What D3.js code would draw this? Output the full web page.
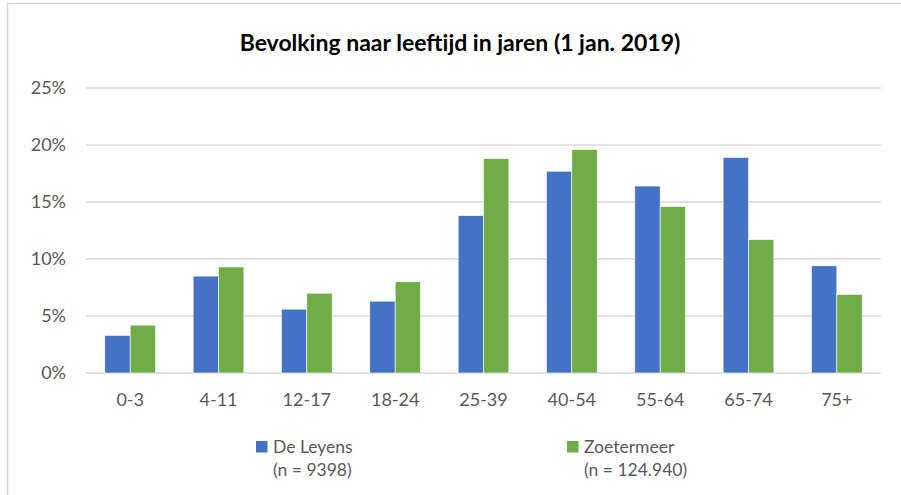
<!DOCTYPE html>
<html>
<head>
<meta charset="utf-8">
<script src="https://cdn.jsdelivr.net/npm/d3@7"></script>
<style>
  body { margin: 0; background: #fff; }
  svg { font-family: Lato, "Open Sans", sans-serif; }
</style>
</head>
<body>
<svg id="chart"></svg>
<script>
const categories = ['0-3', '4-11', '12-17', '18-24', '25-39', '40-54', '55-64', '65-74', '75+'];
const deLeyens = [3.3, 8.5, 5.6, 6.3, 13.8, 17.7, 16.4, 18.9, 9.4];
const zoetermeer = [4.2, 9.3, 7.0, 8.0, 18.8, 19.6, 14.6, 11.7, 6.9];
const yTicks = [0, 5, 10, 15, 20, 25];
const seriesNames = ['De Leyens', 'Zoetermeer'];
const seriesNotes = ['(n = 9398)', '(n = 124.940)'];
const colors = ['#4472c4', '#70ad47'];

const width = 901, height = 495;
const margin = { top: 88, right: 20, bottom: 122, left: 86 };

const svg = d3.select('#chart')
  .attr('width', width)
  .attr('height', height);

// chart frame
svg.append('rect')
  .attr('x', 7.5).attr('y', 3.5)
  .attr('width', width + 10).attr('height', height + 10)
  .attr('fill', 'none')
  .attr('stroke', '#d9d9d9')
  .attr('stroke-width', 1.5);

svg.append('text')
  .attr('x', 460)
  .attr('y', 51)
  .attr('text-anchor', 'middle')
  .attr('font-weight', 'bold')
  .attr('font-size', 23)
  .attr('fill', '#000')
  .text('Bevolking naar leeftijd in jaren (1 jan. 2019)');

const x0 = d3.scaleBand()
  .domain(categories)
  .range([margin.left, width - margin.right])
  .paddingInner(0.426)
  .paddingOuter(0.213);

const x1 = d3.scaleBand()
  .domain([0, 1])
  .range([0, x0.bandwidth()]);

const y = d3.scaleLinear()
  .domain([0, 25])
  .range([height - margin.bottom, margin.top]);

// gridlines
svg.append('g')
  .selectAll('line')
  .data(yTicks)
  .enter()
  .append('line')
  .attr('x1', margin.left)
  .attr('x2', width - margin.right)
  .attr('y1', d => y(d))
  .attr('y2', d => y(d))
  .attr('stroke', '#d9d9d9')
  .attr('stroke-width', 1.5);

const yAxis = svg.append('g')
  .attr('transform', `translate(${margin.left - 20},0)`)
  .call(d3.axisLeft(y).tickValues(yTicks).tickFormat(d => d + '%').tickSize(0).tickPadding(0));
yAxis.select('.domain').remove();
yAxis.selectAll('text')
  .attr('font-family', 'Lato, sans-serif')
  .attr('font-size', 18)
  .attr('fill', '#595959');

const series = [deLeyens, zoetermeer];
const groups = svg.append('g')
  .selectAll('g')
  .data(categories)
  .enter()
  .append('g')
  .attr('transform', d => `translate(${x0(d)},0)`);

groups.selectAll('rect')
  .data((d, i) => series.map((s, k) => ({ k, v: s[i] })))
  .enter()
  .append('rect')
  .attr('x', d => x1(d.k))
  .attr('y', d => y(d.v))
  .attr('width', x1.bandwidth())
  .attr('height', d => y(0) - y(d.v))
  .attr('fill', d => colors[d.k])
  .attr('stroke', '#fff')
  .attr('stroke-width', 0.6);

const xAxis = svg.append('g')
  .attr('transform', `translate(0,${y(0)})`)
  .call(d3.axisBottom(x0).tickSize(0).tickPadding(20));
xAxis.select('.domain').remove();
xAxis.selectAll('text')
  .attr('font-family', 'Lato, sans-serif')
  .attr('font-size', 18)
  .attr('fill', '#595959');

// legend
const legendX = [256, 567];
const legend = svg.append('g')
  .selectAll('g')
  .data(seriesNames)
  .enter()
  .append('g')
  .attr('transform', (d, i) => `translate(${legendX[i]},441)`);

legend.append('rect')
  .attr('width', 11.5)
  .attr('height', 11.5)
  .attr('fill', (d, i) => colors[i]);

legend.append('text')
  .attr('x', 17)
  .attr('y', 11.5)
  .attr('font-size', 17.5)
  .attr('fill', '#595959')
  .text(d => d);

legend.append('text')
  .attr('x', 17)
  .attr('y', 35)
  .attr('font-size', 17.5)
  .attr('fill', '#595959')
  .text((d, i) => seriesNotes[i]);
</script>
</body>
</html>
